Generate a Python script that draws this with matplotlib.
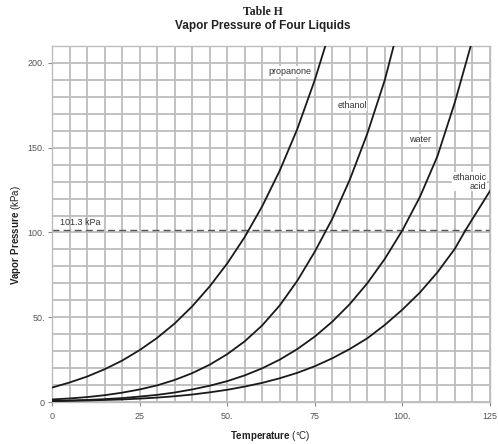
import numpy as np
import matplotlib
matplotlib.use("Agg")
import matplotlib.pyplot as plt

plt.rcParams['font.family'] = ['Liberation Sans', 'DejaVu Sans']
plt.rcParams['mathtext.fontset'] = 'custom'
plt.rcParams['mathtext.rm'] = 'Liberation Sans'
plt.rcParams['mathtext.bf'] = 'Liberation Sans:bold'

# vapor pressure (kPa) vs temperature (C) for each liquid
propanone_t = [0, 5, 10, 15, 20, 25, 30, 35, 40, 45, 50, 55, 60, 65, 70, 75, 78]
propanone_p = [8.5, 11.5, 15.0, 19.3, 24.4, 30.6, 37.8, 46.3, 56.4, 68.2, 81.7, 97.3, 115.5, 136.5, 161, 190, 210]

ethanol_t = [0, 5, 10, 15, 20, 25, 30, 35, 40, 45, 50, 55, 60, 65, 70, 75, 80, 85, 90, 95, 97.5]
ethanol_p = [1.5, 2.1, 2.9, 4.0, 5.5, 7.4, 9.8, 13.0, 17.0, 22.0, 28.2, 35.8, 45.2, 57.0, 71.5, 88.7, 108.1, 131.2, 158.4, 190.1, 210]

water_t = [0, 5, 10, 15, 20, 25, 30, 35, 40, 45, 50, 55, 60, 65, 70, 75, 80, 85, 90, 95, 100, 105, 110, 115, 119.5]
water_p = [0.6, 0.9, 1.2, 1.7, 2.3, 3.2, 4.2, 5.6, 7.4, 9.6, 12.3, 15.7, 19.9, 25.0, 31.2, 38.6, 47.4, 57.8, 70.1, 84.5, 101.3, 121, 145, 177, 210]

ethanoic_t = [0, 5, 10, 15, 20, 25, 30, 35, 40, 45, 50, 55, 60, 65, 70, 75, 80, 85, 90, 95, 100, 105, 110, 115, 118, 120, 125]
ethanoic_p = [0.5, 0.7, 0.9, 1.2, 1.5, 2.0, 2.6, 3.4, 4.4, 5.7, 7.2, 9.1, 11.3, 14.0, 17.2, 21.1, 25.8, 31.3, 37.6, 45.5, 54.5, 64.6, 76.5, 90.5, 101.3, 108, 124.5]

atm = 101.3

x_ticks = [0, 25, 50, 75, 100, 125]
x_labels = ["0", "25", "50.", "75", "100.", "125"]
y_ticks = [0, 50, 100, 150, 200]
y_labels = ["0", "50.", "100.", "150.", "200."]

fig = plt.figure(figsize=(4.98, 4.44), dpi=100)
ax = fig.add_axes([52 / 498, 1 - 402 / 444, 438 / 498, 356 / 444])

ax.set_xlim(0, 125)
ax.set_ylim(0, 210)

# grid every 5 C and 10 kPa
ax.set_xticks(np.arange(0, 126, 5), minor=True)
ax.set_yticks(np.arange(0, 211, 10), minor=True)
ax.set_xticks(x_ticks)
ax.set_xticklabels(x_labels)
ax.set_yticks(y_ticks)
ax.set_yticklabels(y_labels)
ax.grid(True, which='both', color='#bdbdbd', lw=1.3, zorder=0)
ax.set_axisbelow(True)
ax.tick_params(which='minor', length=0)
ax.tick_params(which='major', length=3, width=0.8, color='#888888',
               labelsize=6.5, labelcolor='#555555', pad=2)
ax.tick_params(axis='x', pad=4)
for s in ax.spines.values():
    s.set_color('#bdbdbd')
    s.set_linewidth(1.0)

for t, p in [(propanone_t, propanone_p), (ethanol_t, ethanol_p),
             (water_t, water_p), (ethanoic_t, ethanoic_p)]:
    ax.plot(t, p, color='#1a1a1a', lw=1.3, clip_on=True, zorder=3,
            solid_joinstyle='round')

ax.axhline(atm, color='#555555', lw=1.0, dashes=(5, 3), zorder=2)
ax.text(2.3, atm + 2.0, "101.3 kPa", fontsize=6.5, color='#333333', va='bottom', ha='left')

ax.text(68, 195, "propanone", fontsize=6.5, color='#333333', ha='center', va='center',
        bbox=dict(fc='white', ec='none', pad=0.5))
ax.text(85.6, 175, "ethanol", fontsize=6.5, color='#333333', ha='center', va='center',
        bbox=dict(fc='white', ec='none', pad=0.5))
ax.text(105, 155, "water", fontsize=6.5, color='#333333', ha='center', va='center',
        bbox=dict(fc='white', ec='none', pad=0.5))
ax.text(124, 130, "ethanoic\nacid", fontsize=6.5, color='#333333', ha='right', va='center',
        linespacing=1.0, bbox=dict(fc='white', ec='none', pad=0.5))

fig.text(263 / 498, 1 - 12 / 444, "Table H", fontsize=8.5, fontweight='bold',
         family='Liberation Serif', ha='center', va='center', color='#222222')
fig.text(263 / 498, 1 - 26 / 444, "Vapor Pressure of Four Liquids", fontsize=8.5,
         fontweight='bold', ha='center', va='center', color='#222222')

fig.text(270 / 498, 1 - 436 / 444, r"$\mathbf{Temperature}$ (°C)", fontsize=7,
         ha='center', va='center', color='#222222')
fig.text(16 / 498, 1 - 235 / 444, r"$\mathbf{Vapor\ Pressure}$ (kPa)", fontsize=7,
         rotation=90, ha='center', va='center', color='#222222')

fig.savefig("out.png", dpi=100)
